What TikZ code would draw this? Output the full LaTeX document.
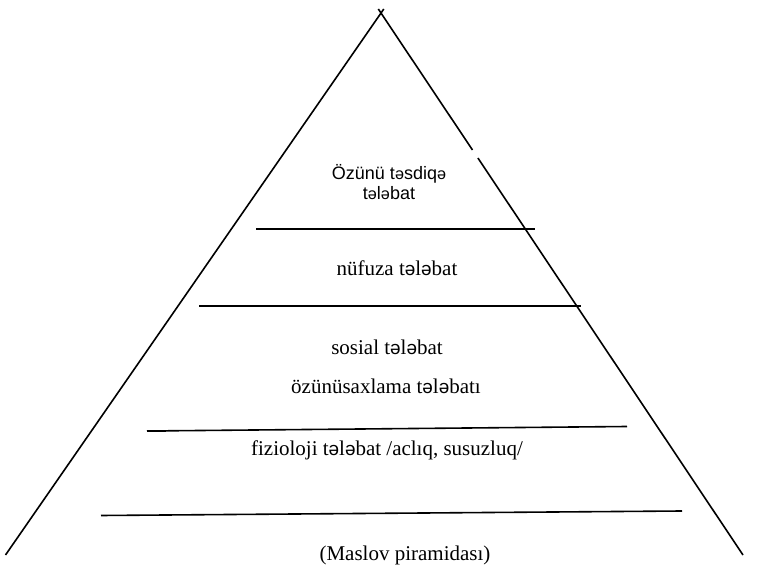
\documentclass[tikz,border=0pt]{standalone}
\usepackage{fontspec}
\setmainfont{Liberation Serif}
\newfontfamily\arialfont{Liberation Sans}
\newfontfamily\schwafont[Scale=0.9]{Liberation Sans}
\newcommand{\sch}{{\schwafont ə}}
\begin{document}
\begin{tikzpicture}[x=1pt,y=-1pt,
  edge/.style={line width=1.6pt,black},
  lbl/.style={inner sep=0pt,font=\fontsize{21}{24}\selectfont},
  toplbl/.style={inner sep=0pt,align=center,font=\arialfont\fontsize{18}{20}\selectfont}]
\useasboundingbox (0,0) rectangle (764,585);
% pyramid sides
\coordinate (lt) at (383.8,9);
\coordinate (lb) at (5.5,555);
\coordinate (rt) at (378.3,9);
\coordinate (rg1) at (472.5,150);
\coordinate (rg2) at (477.9,158);
\coordinate (rb) at (743,555);
\draw[edge] (lt) -- (lb);
\draw[edge] (rt) -- (rg1);
\draw[edge] (rg2) -- (rb);
% level lines
\coordinate (a1) at (256,229); \coordinate (a2) at (535,229);
\coordinate (b1) at (199,306); \coordinate (b2) at (581,306);
\coordinate (c1) at (147,431); \coordinate (c2) at (627,426.5);
\coordinate (c3) at (166,431);
\coordinate (d1) at (101,515.5); \coordinate (d2) at (682,511);
\draw[edge] (a1) -- (a2);
\draw[edge,line width=1.8pt] (b1) -- (b2);
\draw[edge] (c1) -- (c2);
\draw[edge,line width=2.2pt] (c1) -- (c3);
\draw[edge] (d1) -- (d2);
% labels
\node[toplbl] (t1) at (389,182) {Özünü t\sch sdiq\sch\\t\sch l\sch bat};
\node[lbl] (t2) at (397,268) {nüfuza t\sch l\sch bat};
\node[lbl] (t3) at (387,347) {sosial t\sch l\sch bat};
\node[lbl] (t4) at (386,386) {özünüsaxlama t\sch l\sch batı};
\node[lbl] (t5) at (387,450) {fizioloji t\sch l\sch bat /aclıq, susuzluq/};
\node[lbl] (t6) at (405,555) {(Maslov piramidası)};
\end{tikzpicture}
\end{document}
